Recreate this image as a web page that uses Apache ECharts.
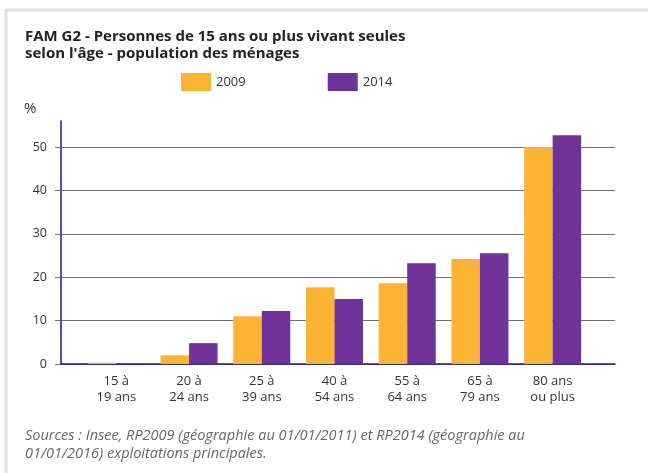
<!DOCTYPE html>
<html style="height: 100%">
<head>
  <meta charset="utf-8">
  <title>FAM G2</title>
  <script src="https://cdn.jsdelivr.net/npm/echarts@6.0.0/dist/echarts.min.js"></script>
</head>
<body style="height: 100%; margin: 0; background: #fff">
  <div id="main" style="width: 648px; height: 473px"></div>
  <script type="text/javascript">
    var categories = ['15 à\n19 ans', '20 à\n24 ans', '25 à\n39 ans', '40 à\n54 ans', '55 à\n64 ans', '65 à\n79 ans', '80 ans\nou plus'];
    var values2009 = [0.3, 2.0, 11.0, 17.7, 18.6, 24.2, 50.0];
    var values2014 = [0.2, 4.8, 12.2, 15.0, 23.2, 25.5, 52.7];
    var yTicks = [0, 10, 20, 30, 40, 50];

    var font = '"Open Sans", sans-serif';
    var navy = '#1a1a8f';

    var option = {
      animation: false,
      textStyle: { fontFamily: font },
      legend: {
        data: ['2009', '2014'],
        left: 181,
        top: 73,
        padding: 0,
        itemWidth: 30,
        itemHeight: 18,
        itemGap: 82,
        icon: 'rect',
        textStyle: { fontSize: 13, color: '#333', fontFamily: font }
      },
      graphic: [
        {
          type: 'rect', z: -10, silent: true,
          shape: { x: 6, y: 10, width: 700, height: 520 },
          style: { fill: '#fff', stroke: '#e0e0e0', lineWidth: 3 }
        },
        {
          type: 'text', x: 25, y: 28,
          style: {
            text: "FAM G2 - Personnes de 15 ans ou plus vivant seules\nselon l'âge - population des ménages",
            fontSize: 15, fontWeight: 'bold', fill: '#222', lineHeight: 17, fontFamily: font
          }
        },
        {
          type: 'text', x: 24, y: 101,
          style: { text: '%', fontSize: 15, fill: '#333', fontFamily: font }
        },
        {
          type: 'text', x: 25, y: 427,
          style: {
            text: 'Sources : Insee, RP2009 (géographie au 01/01/2011) et RP2014 (géographie au\n01/01/2016) exploitations principales.',
            fontSize: 14.5, fontStyle: 'italic', fill: '#666', lineHeight: 18, fontFamily: font
          }
        }
      ],
      grid: [
        { left: 61, right: 33, top: 121, bottom: 109 },
        { left: 80, right: 59, top: 121, bottom: 109 }
      ],
      xAxis: [
        {
          gridIndex: 0, type: 'value', min: 0, max: 1,
          axisLine: { show: true, lineStyle: { color: navy, width: 1.5 } },
          axisTick: { show: false }, axisLabel: { show: false }, splitLine: { show: false }
        },
        {
          gridIndex: 1, type: 'category', data: categories,
          axisLine: { show: false }, axisTick: { show: false },
          axisLabel: { color: '#333', fontSize: 13, lineHeight: 16, margin: 9, fontFamily: font }
        }
      ],
      yAxis: [
        {
          gridIndex: 0, type: 'value', min: 0, max: 56, interval: 10,
          axisLine: { show: true, lineStyle: { color: navy, width: 1.5 } },
          axisTick: { show: true, length: 6, customValues: yTicks, lineStyle: { color: '#6e6e6e' } },
          axisLabel: { customValues: yTicks, color: '#333', fontSize: 12.5, margin: 14, fontFamily: font },
          splitLine: { show: true, lineStyle: { color: '#707070', width: 1 } }
        },
        {
          gridIndex: 1, type: 'value', min: 0, max: 56, show: false
        }
      ],
      series: [
        {
          name: '2009', type: 'bar', xAxisIndex: 1, yAxisIndex: 1,
          barWidth: 28.5, barGap: '0%',
          itemStyle: { color: '#fdb432' },
          data: values2009
        },
        {
          name: '2014', type: 'bar', xAxisIndex: 1, yAxisIndex: 1,
          barWidth: 28.5, barGap: '0%',
          itemStyle: { color: '#6f3298' },
          data: values2014
        }
      ]
    };

    var chart = echarts.init(document.getElementById('main'));
    chart.setOption(option);
  </script>
</body>
</html>
